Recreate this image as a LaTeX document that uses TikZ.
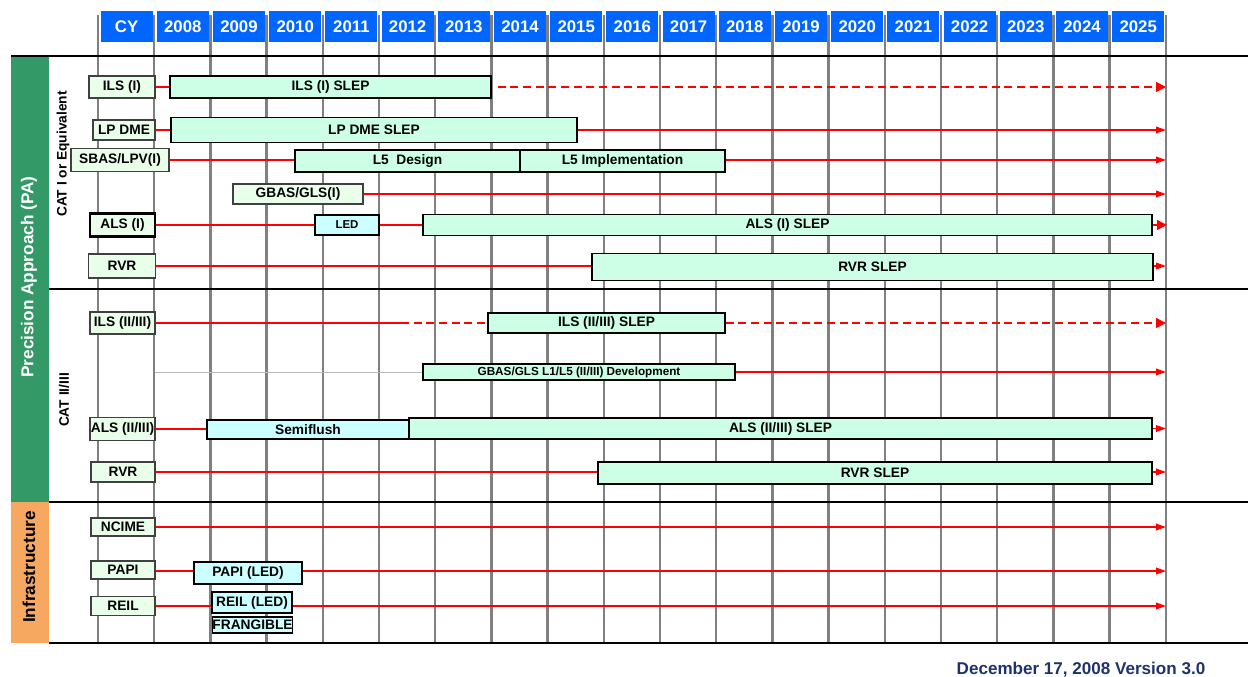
\documentclass[tikz,border=0pt]{standalone}
\usepackage{fontspec}
\setmainfont{Liberation Sans}
\usetikzlibrary{arrows.meta,positioning,calc}

\definecolor{hdrblue}{RGB}{0,102,255}
\definecolor{pagreen}{RGB}{51,153,102}
\definecolor{infraorange}{RGB}{246,168,96}
\definecolor{lblfill}{RGB}{234,255,234}
\definecolor{slepfill}{RGB}{204,255,230}
\definecolor{ledfill}{RGB}{204,255,255}
\definecolor{gridgray}{RGB}{128,128,128}
\definecolor{datenavy}{RGB}{31,50,110}

\tikzset{
  lbl/.style={draw=black!75,fill=lblfill,line width=1pt,inner sep=0pt,minimum height=20*0.75pt,font=\fontsize{10.3}{12}\selectfont\bfseries},
  slep/.style={draw=black,fill=slepfill,line width=1pt,inner sep=0pt,minimum height=22*0.75pt,font=\fontsize{10.3}{12}\selectfont\bfseries},
  ledbox/.style={slep,fill=ledfill},
  wd/.style={minimum width=#1*0.75pt},
  ht/.style={minimum height=#1*0.75pt},
  tl/.style={red,line width=1pt},
  tlarr/.style={tl,-{Triangle[length=7.5pt,width=5pt]}},
  tlbig/.style={tl,-{Triangle[length=7.5pt,width=7.5pt]}},
  tldash/.style={tl,line width=1.1pt,dash pattern=on 6pt off 3.5pt},
  yearbox/.style={fill=hdrblue,text=white,inner sep=0pt,minimum width=52*0.75pt,minimum height=31*0.75pt,font=\fontsize{12.6}{14}\selectfont\bfseries},
}

\begin{document}
\begin{tikzpicture}[x=0.75pt,y=-0.75pt]
       \useasboundingbox (0,0) rectangle (1248,677);

       % grid and year header
       \foreach \i in {0,...,19}
         \draw[gridgray,line width=1.8pt] ({98+56.2*\i},15) -- ({98+56.2*\i},643);
       \foreach \lab [count=\i from 0] in {CY,2008,2009,2010,2011,2012,2013,2014,2015,2016,2017,2018,2019,2020,2021,2022,2023,2024,2025}
         \node[yearbox] (hdr\i) at ({98+56.2*\i+28.6},26.5) {\lab};

       % section bands
       \fill[pagreen] (11,56) rectangle (49,502);
       \fill[infraorange] (11,502) rectangle (49,643);
       \draw[line width=1.1pt] (11,56) -- (1248,56);
       \draw[line width=1.1pt] (49,289) -- (1248,289);
       \draw[line width=1.1pt] (49,502) -- (1248,502);
       \draw[line width=1.1pt] (49,643) -- (1248,643);

       \node[rotate=90,text=white,font=\fontsize{12.9}{14}\selectfont\bfseries] (paTitle) at (29,277) {Precision Approach (PA)};
       \node[rotate=90,font=\fontsize{12.9}{14}\selectfont\bfseries] (infraTitle) at (29,567) {Infrastructure};
       \node[rotate=90,font=\fontsize{10.3}{12}\selectfont\bfseries] (catOne) at (63,154) {CAT I or Equivalent};
       \node[rotate=90,font=\fontsize{10.3}{12}\selectfont\bfseries] (catTwo) at (64,400) {CAT II/III};

       % CAT I
       \node[lbl,wd=66,ht=22] (lilsI) at (122,87) {ILS (I)};
       \node[slep,wd=321] (bilsI) at (330.5,87) {ILS (I) SLEP};
       \coordinate (eilsI) at (1166,87);
       \draw[tl] (lilsI) -- (bilsI);
       \draw[tldash,-{Triangle[length=7.5pt,width=7.5pt]},shorten <=4.5pt] (bilsI) -- (eilsI);

       \node[lbl,wd=62] (llpdme) at (124,130) {LP DME};
       \node[slep,wd=406,ht=25] (blpdme) at (374,130) {LP DME SLEP};
       \coordinate (elpdme) at (1166,130);
       \draw[tl] (llpdme) -- (blpdme);
       \draw[tlarr] (blpdme) -- (elpdme);

       \node[lbl,wd=98,ht=23] (lsbas) at (120,160) {SBAS/LPV(I)};
       \node[slep,wd=225] (bldesign) at (407.5,161) {L5\ \ Design};
       \node[slep,wd=205] (blimpl) at (622.5,161) {L5 Implementation};
       \coordinate (esbas) at (1166,160);
       \draw[tl] (lsbas.east) -- (lsbas.east -| bldesign.west);
       \draw[tlarr] (blimpl.east |- lsbas) -- (esbas);

       \node[lbl,wd=130] (lgbasI) at (298,194) {GBAS/GLS(I)};
       \coordinate (egbasI) at (1166,194);
       \draw[tlarr] (lgbasI) -- (egbasI);

       \node[lbl,wd=65,ht=23,draw=black,line width=1.6pt] (lalsI) at (122.5,225) {ALS (I)};
       \node[ledbox,wd=64,ht=20,font=\fontsize{8.6}{10}\selectfont\bfseries] (bledI) at (347,225) {LED};
       \node[slep,wd=729,ht=21] (balsI) at (787.5,225) {ALS (I) SLEP};
       \coordinate (ealsI) at (1167,225);
       \draw[tl] (lalsI) -- (bledI);
       \draw[tl] (bledI) -- (balsI);
       \draw[tlbig] (balsI) -- (ealsI);

       \node[lbl,wd=67,ht=24] (lrvrI) at (122,266) {RVR};
       \node[slep,wd=561,ht=27] (brvrI) at (872.5,267) {RVR SLEP};
       \coordinate (ervrI) at (1166,266);
       \draw[tl] (lrvrI.east) -- (lrvrI.east -| brvrI.west);
       \draw[tlarr] (brvrI.east |- ervrI) -- (ervrI);

       % CAT II/III
       \node[lbl,wd=65,ht=22] (lilsII) at (122.5,323) {ILS (II/III)};
       \node[slep,wd=237,ht=20] (bilsII) at (606.5,323) {ILS (II/III) SLEP};
       \coordinate (milsII) at (401,323);
       \coordinate (eilsII) at (1166,323);
       \draw[tl] (lilsII) -- (milsII);
       \draw[tldash] (milsII) -- (bilsII);
       \draw[tldash,-{Triangle[length=7.5pt,width=7.5pt]}] (bilsII) -- (eilsII);

       \node[slep,wd=312,ht=16,font=\fontsize{8.8}{10}\selectfont\bfseries] (bgbasII) at (579,372) {GBAS/GLS L1/L5 (II/III) Development};
       \coordinate (sgbasII) at (155,372);
       \coordinate (egbasII) at (1166,372);
       \draw[gray!55,line width=0.6pt] (sgbasII) -- (bgbasII);
       \draw[tlarr] (bgbasII) -- (egbasII);

       \node[lbl,wd=65,ht=23] (lalsII) at (122.5,429) {ALS (II/III)};
       \node[ledbox,wd=202,ht=19] (bsemi) at (308,429.5) {Semiflush};
       \node[slep,wd=743,ht=21] (balsII) at (780.5,428.5) {ALS (II/III) SLEP};
       \coordinate (ealsII) at (1166,428.5);
       \draw[tl] (lalsII.east) -- (lalsII.east -| bsemi.west);
       \draw[tlarr] (balsII) -- (ealsII);

       \node[lbl,wd=64,ht=20] (lrvrII) at (123,472) {RVR};
       \node[slep,wd=554,ht=22] (brvrII) at (875,473) {RVR SLEP};
       \coordinate (ervrII) at (1166,472);
       \draw[tl] (lrvrII.east) -- (lrvrII.east -| brvrII.west);
       \draw[tlarr] (brvrII.east |- ervrII) -- (ervrII);

       % Infrastructure
       \node[lbl,wd=64,ht=18] (lncime) at (123,527) {NCIME};
       \coordinate (encime) at (1166,527);
       \draw[tlarr] (lncime) -- (encime);

       \node[lbl,wd=64,ht=18] (lpapi) at (123,570) {PAPI};
       \node[ledbox,wd=108,ht=22] (bpapi) at (248,573) {PAPI (LED)};
       \coordinate (epapi) at (1166,571);
       \draw[tl] (lpapi.east |- epapi) -- (bpapi.west |- epapi);
       \draw[tlarr] (bpapi.east |- epapi) -- (epapi);

       \node[lbl,wd=64,ht=19] (lreil) at (123,606) {REIL};
       \node[ledbox,wd=80,ht=21] (breil) at (252,602.5) {REIL (LED)};
       \node[ledbox,wd=79,ht=16,inner sep=0pt] (bfrang) at (252.5,625) {FRANGIBLE};
       \coordinate (ereil) at (1166,606);
       \draw[tl] (lreil) -- (lreil -| breil.west);
       \draw[tlarr] (breil.east |- ereil) -- (ereil);

       \node[text=datenavy,font=\fontsize{12.8}{14}\selectfont\bfseries] (version) at (1081,670) {December 17, 2008 Version 3.0};
\end{tikzpicture}
\end{document}
